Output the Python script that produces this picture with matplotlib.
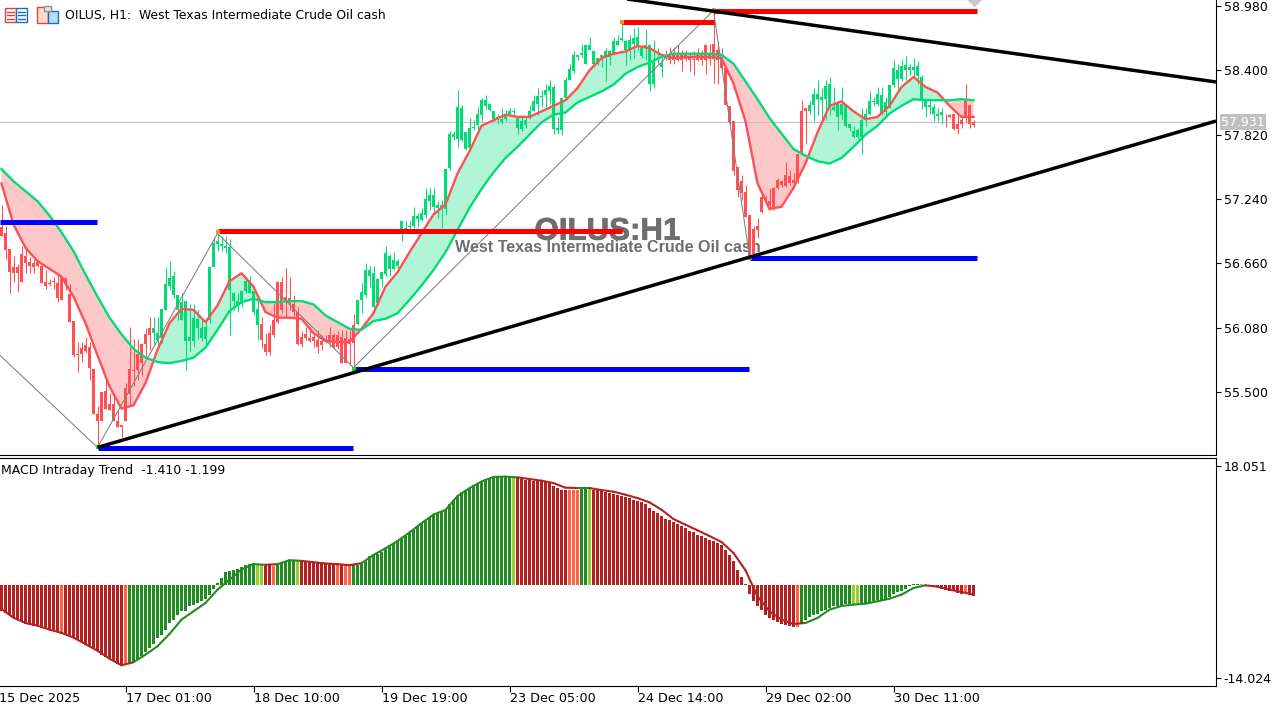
#!/usr/bin/env python3
from __future__ import annotations

import matplotlib

matplotlib.use("Agg")
import matplotlib.patheffects as pe
import matplotlib.pyplot as plt
import numpy as np
from matplotlib.patches import Rectangle

# candles, one value per H1 bar
body_top = [
    56.99, 56.93, 56.79, 56.63, 56.63, 56.74, 56.73, 56.67, 56.66, 56.67,
    56.64, 56.49, 56.48, 56.50, 56.48, 56.54, 56.53, 56.38, 56.14, 55.84,
    55.90, 55.92, 55.91, 55.71, 55.30, 55.50, 55.51, 55.39, 55.39, 55.24,
    55.20, 55.54, 55.71, 55.70, 55.84, 55.93, 56.02, 56.08, 56.08, 56.03,
    56.25, 56.47, 56.53, 56.55, 56.37, 56.31, 56.32, 56.00, 56.17, 56.16,
    56.08, 56.09, 56.63, 56.84, 56.86, 56.83, 56.82, 56.81, 56.39, 56.32,
    56.41, 56.50, 56.51, 56.41, 56.25, 56.11, 55.93, 56.03, 56.15, 56.49,
    56.49, 56.36, 56.35, 56.29, 56.22, 56.00, 56.02, 55.99, 56.00, 55.97,
    55.96, 55.97, 56.01, 56.01, 56.01, 56.00, 55.99, 55.98, 56.10, 56.33,
    56.40, 56.60, 56.60, 56.57, 56.52, 56.58, 56.75, 56.73, 56.69, 56.68,
    57.04, 56.98, 57.00, 57.09, 57.09, 57.11, 57.24, 57.28, 57.28, 57.19,
    57.19, 57.51, 57.83, 57.83, 58.07, 58.06, 57.84, 57.88, 57.89, 58.01,
    58.13, 58.13, 58.10, 58.03, 57.98, 57.96, 58.00, 58.03, 58.03, 57.97,
    57.94, 57.95, 58.03, 58.12, 58.17, 58.17, 58.22, 58.26, 58.25, 57.88,
    58.15, 58.31, 58.41, 58.54, 58.54, 58.56, 58.63, 58.63, 58.57, 58.51,
    58.54, 58.57, 58.57, 58.66, 58.66, 58.69, 58.66, 58.67, 58.69, 58.70,
    58.60, 58.63, 58.63, 58.49, 58.50, 58.47, 58.53, 58.55, 58.55, 58.54,
    58.54, 58.54, 58.53, 58.50, 58.54, 58.55, 58.63, 58.55, 58.64, 58.58,
    58.51, 58.42, 58.08, 57.94, 57.53, 57.40, 57.30, 57.10, 56.97, 57.00,
    57.26, 57.26, 57.22, 57.34, 57.41, 57.40, 57.46, 57.45, 57.41, 57.65,
    58.03, 58.06, 58.09, 58.19, 58.19, 58.16, 58.26, 58.28, 58.07, 58.10,
    58.10, 58.09, 57.92, 57.85, 57.86, 57.95, 58.01, 58.12, 58.12, 58.19,
    58.18, 58.11, 58.27, 58.42, 58.40, 58.44, 58.45, 58.43, 58.43, 58.44,
    58.34, 58.13, 58.09, 58.07, 58.01, 58.02, 57.98, 58.00, 58.01, 57.92,
    57.95, 58.12, 58.09, 57.93,
]
body_bot = [
    56.91, 56.78, 56.58, 56.57, 56.57, 56.49, 56.66, 56.64, 56.63, 56.64,
    56.48, 56.46, 56.47, 56.49, 56.35, 56.33, 56.47, 56.13, 55.83, 55.83,
    55.84, 55.87, 55.72, 55.30, 55.24, 55.24, 55.35, 55.34, 55.24, 55.18,
    55.18, 55.24, 55.48, 55.69, 55.70, 55.76, 55.93, 56.01, 56.03, 55.97,
    55.99, 56.24, 56.46, 56.37, 56.24, 56.15, 55.96, 55.96, 55.96, 56.08,
    55.99, 55.98, 56.15, 56.63, 56.83, 56.82, 56.80, 56.42, 56.32, 56.29,
    56.29, 56.41, 56.39, 56.22, 56.10, 55.97, 55.86, 55.86, 56.01, 56.13,
    56.24, 56.33, 56.30, 56.22, 55.93, 55.93, 55.99, 55.96, 55.96, 55.91,
    55.92, 55.96, 55.95, 55.91, 55.91, 55.76, 55.76, 55.93, 55.94, 56.11,
    56.33, 56.37, 56.55, 56.27, 56.30, 56.52, 56.56, 56.61, 56.61, 56.64,
    56.97, 56.97, 56.99, 57.00, 57.06, 57.05, 57.10, 57.22, 57.17, 57.16,
    57.15, 57.15, 57.52, 57.80, 57.78, 57.77, 57.69, 57.70, 57.88, 57.91,
    58.00, 58.08, 58.04, 57.96, 57.96, 57.93, 57.96, 58.01, 58.02, 57.88,
    57.87, 57.91, 57.97, 58.03, 58.10, 58.16, 58.18, 58.21, 57.87, 57.86,
    57.86, 58.15, 58.31, 58.39, 58.52, 58.54, 58.46, 58.58, 58.46, 58.46,
    58.52, 58.53, 58.52, 58.55, 58.63, 58.67, 58.58, 58.58, 58.64, 58.63,
    58.53, 58.61, 58.28, 58.28, 58.49, 58.43, 58.51, 58.49, 58.49, 58.49,
    58.49, 58.50, 58.49, 58.49, 58.49, 58.49, 58.49, 58.50, 58.50, 58.49,
    58.42, 58.09, 57.93, 57.49, 57.32, 57.29, 57.08, 56.72, 56.74, 56.96,
    57.12, 57.22, 57.19, 57.17, 57.34, 57.37, 57.36, 57.38, 57.38, 57.39,
    57.65, 58.03, 58.03, 58.09, 58.14, 58.13, 58.14, 58.07, 58.04, 57.98,
    58.00, 57.90, 57.88, 57.80, 57.80, 57.80, 57.95, 58.01, 58.11, 58.10,
    58.01, 58.02, 58.06, 58.27, 58.32, 58.32, 58.40, 58.40, 58.40, 58.35,
    58.13, 58.07, 58.07, 58.01, 57.99, 58.00, 57.98, 57.98, 57.87, 57.87,
    57.92, 57.97, 57.92, 57.91,
]
wick_high = [
    57.19, 57.00, 56.79, 56.73, 56.65, 56.82, 56.81, 56.72, 56.70, 56.69,
    56.66, 56.60, 56.52, 56.54, 56.56, 56.55, 56.54, 56.47, 56.14, 55.95,
    55.95, 56.00, 55.95, 55.71, 55.37, 55.50, 55.61, 55.49, 55.49, 55.34,
    55.20, 55.58, 56.09, 55.98, 55.98, 55.93, 56.08, 56.18, 56.18, 56.18,
    56.25, 56.62, 56.68, 56.59, 56.37, 56.39, 56.32, 56.29, 56.29, 56.24,
    56.15, 56.17, 56.63, 56.90, 56.93, 56.91, 56.91, 56.88, 56.39, 56.39,
    56.41, 56.53, 56.55, 56.41, 56.35, 56.18, 56.03, 56.10, 56.30, 56.50,
    56.54, 56.62, 56.54, 56.37, 56.27, 56.05, 56.09, 56.09, 56.04, 56.06,
    56.01, 56.01, 56.09, 56.03, 56.05, 56.06, 56.06, 56.06, 56.20, 56.33,
    56.48, 56.66, 56.64, 56.64, 56.52, 56.58, 56.82, 56.74, 56.76, 56.70,
    57.04, 57.04, 57.04, 57.17, 57.11, 57.16, 57.34, 57.34, 57.34, 57.22,
    57.23, 57.51, 57.85, 57.85, 58.22, 58.09, 57.84, 57.97, 57.95, 58.07,
    58.15, 58.18, 58.10, 58.03, 58.01, 58.06, 58.04, 58.06, 58.06, 57.98,
    57.98, 57.97, 58.09, 58.18, 58.24, 58.22, 58.28, 58.31, 58.27, 57.98,
    58.15, 58.34, 58.46, 58.57, 58.54, 58.64, 58.63, 58.70, 58.57, 58.52,
    58.54, 58.60, 58.58, 58.70, 58.72, 58.82, 58.67, 58.72, 58.78, 58.79,
    58.63, 58.77, 58.63, 58.67, 58.60, 58.55, 58.58, 58.61, 58.61, 58.63,
    58.58, 58.58, 58.55, 58.57, 58.60, 58.58, 58.64, 58.64, 58.94, 58.66,
    58.60, 58.42, 58.08, 57.94, 57.53, 57.46, 57.37, 57.10, 57.00, 57.07,
    57.31, 57.28, 57.34, 57.35, 57.43, 57.41, 57.57, 57.50, 57.47, 57.65,
    58.13, 58.06, 58.12, 58.24, 58.31, 58.24, 58.31, 58.34, 58.25, 58.10,
    58.25, 58.09, 57.92, 57.90, 57.88, 58.06, 58.06, 58.21, 58.16, 58.25,
    58.25, 58.16, 58.27, 58.49, 58.46, 58.49, 58.53, 58.46, 58.51, 58.48,
    58.36, 58.15, 58.15, 58.10, 58.06, 58.06, 58.01, 58.01, 58.01, 58.00,
    58.00, 58.28, 58.09, 57.95,
]
wick_low = [
    56.91, 56.70, 56.39, 56.49, 56.40, 56.49, 56.57, 56.57, 56.57, 56.63,
    56.48, 56.43, 56.46, 56.43, 56.31, 56.33, 56.42, 56.13, 55.82, 55.68,
    55.77, 55.85, 55.61, 55.30, 55.01, 55.24, 55.35, 55.34, 55.24, 55.18,
    55.09, 55.24, 55.37, 55.55, 55.61, 55.64, 55.82, 55.88, 55.93, 55.91,
    55.94, 56.24, 56.42, 56.35, 56.15, 56.15, 55.70, 55.87, 55.91, 55.98,
    55.96, 55.91, 56.12, 56.63, 56.77, 56.77, 56.75, 56.01, 56.24, 56.22,
    56.27, 56.39, 56.39, 56.19, 55.97, 55.90, 55.83, 55.83, 56.00, 56.12,
    56.21, 56.17, 56.24, 56.18, 55.92, 55.91, 55.97, 55.95, 55.91, 55.85,
    55.88, 55.94, 55.91, 55.89, 55.89, 55.76, 55.76, 55.74, 55.73, 56.10,
    56.21, 56.36, 56.45, 56.24, 56.28, 56.45, 56.55, 56.55, 56.60, 56.58,
    56.86, 56.96, 56.97, 56.98, 56.99, 57.04, 57.07, 57.14, 57.11, 57.07,
    56.98, 57.10, 57.50, 57.77, 57.71, 57.76, 57.68, 57.69, 57.86, 57.85,
    57.94, 58.05, 58.03, 57.94, 57.92, 57.92, 57.94, 58.00, 58.00, 57.83,
    57.85, 57.88, 57.96, 58.03, 58.00, 58.07, 58.07, 58.10, 57.83, 57.83,
    57.82, 58.13, 58.31, 58.38, 58.49, 58.52, 58.46, 58.58, 58.43, 58.45,
    58.43, 58.30, 58.45, 58.54, 58.63, 58.66, 58.45, 58.49, 58.51, 58.58,
    58.51, 58.49, 58.21, 58.24, 58.46, 58.34, 58.49, 58.46, 58.46, 58.48,
    58.39, 58.48, 58.39, 58.36, 58.48, 58.45, 58.37, 58.45, 58.29, 58.28,
    58.40, 58.09, 57.92, 57.46, 57.26, 57.23, 57.08, 56.70, 56.74, 56.89,
    57.11, 57.20, 57.14, 57.14, 57.33, 57.35, 57.35, 57.37, 57.34, 57.38,
    57.64, 57.74, 58.01, 57.94, 58.00, 57.94, 57.95, 58.00, 58.03, 57.86,
    57.95, 57.89, 57.85, 57.79, 57.78, 57.65, 57.90, 58.00, 58.08, 58.09,
    58.00, 58.00, 58.06, 58.25, 58.21, 58.30, 58.31, 58.36, 58.33, 58.28,
    58.05, 57.98, 58.01, 57.94, 57.94, 57.92, 57.89, 57.97, 57.86, 57.83,
    57.88, 57.93, 57.88, 57.89,
]

# first bar of each candle colour run, alternating red/green
trend_starts = [0, 38, 65, 89, 166, 202, 236]

# moving averages, read every third bar
ma_bars = list(range(0, 244, 3))
ma_fast = [
    57.38, 57.01, 56.80, 56.68, 56.61, 56.54, 56.36, 56.12, 55.83, 55.55,
    55.35, 55.38, 55.58, 55.88, 56.12, 56.25, 56.24, 56.13, 56.28, 56.50,
    56.57, 56.45, 56.22, 56.17, 56.17, 56.16, 56.03, 55.96, 55.95, 55.95,
    56.07, 56.21, 56.45, 56.58, 56.76, 56.93, 57.10, 57.19, 57.47, 57.67,
    57.90, 57.95, 58.00, 57.98, 57.98, 58.03, 58.08, 58.13, 58.24, 58.40,
    58.51, 58.55, 58.57, 58.62, 58.60, 58.54, 58.51, 58.52, 58.52, 58.52,
    58.51, 58.28, 57.94, 57.38, 57.15, 57.17, 57.34, 57.56, 57.84, 58.08,
    58.12, 58.03, 57.96, 57.98, 58.08, 58.25, 58.34, 58.25, 58.20, 58.08,
    57.98, 57.98,
]
ma_slow = [
    57.51, 57.40, 57.31, 57.22, 57.09, 56.94, 56.77, 56.56, 56.36, 56.17,
    56.02, 55.89, 55.81, 55.77, 55.76, 55.78, 55.81, 55.90, 56.06, 56.23,
    56.31, 56.34, 56.31, 56.31, 56.32, 56.32, 56.29, 56.19, 56.13, 56.07,
    56.06, 56.14, 56.16, 56.21, 56.33, 56.46, 56.60, 56.76, 56.96, 57.16,
    57.33, 57.48, 57.61, 57.71, 57.82, 57.93, 58.00, 58.02, 58.11, 58.16,
    58.21, 58.27, 58.37, 58.43, 58.47, 58.52, 58.55, 58.55, 58.55, 58.55,
    58.54, 58.46, 58.30, 58.14, 57.97, 57.83, 57.69, 57.63, 57.58, 57.56,
    57.61, 57.71, 57.82, 57.90, 58.01, 58.08, 58.14, 58.13, 58.13, 58.13,
    58.14, 58.13,
]

# zigzag swings and level lines (bar, price)
zigzag_bars = [-0.375, 24, 54, 88, 178, 187]
zigzag_prices = [55.83, 55.00, 56.93, 55.72, 58.94, 56.72]
support_levels = [(-0.375, 23.75, 57.03), (24, 87.75, 54.995), (88, 186.75, 55.71), (187, 243.75, 56.71)]
resistance_levels = [(54, 155, 56.95), (155, 178, 58.84), (178, 243.75, 58.935)]
swing_low_marks = [(24, 55.00), (88, 55.71), (187, 56.71)]
swing_high_marks = [(54, 56.94), (155, 58.84), (178, 58.94)]

# trend lines, two ends each
upper_line_bars = [155, 303.625]
upper_line_prices = [59.05, 58.295]
lower_line_bars = [24, 303.625]
lower_line_prices = [55.00, 57.943]

# grey arrow on the top edge
arrow_bars = [241.4, 245.2, 243.3]
arrow_prices = [59.034, 59.034, 58.97]

last_price = 57.931
price_ticks = [58.98, 58.40, 57.82, 57.24, 56.66, 56.08, 55.50]

# MACD histogram
macd_hist = [
    -3.93, -4.18, -4.44, -4.94, -5.09, -5.44, -5.80, -5.95, -6.10, -6.20,
    -6.45, -6.65, -6.80, -6.96, -7.11, -7.31, -7.46, -7.71, -7.96, -8.32,
    -8.62, -8.97, -9.22, -9.58, -9.98, -10.48, -10.84, -11.14, -11.49, -11.89,
    -12.25, -12.10, -11.69, -11.64, -11.09, -10.74, -10.08, -9.48, -8.82, -7.96,
    -7.46, -6.70, -5.70, -5.19, -4.44, -3.93, -3.83, -3.18, -2.92, -2.67,
    -2.42, -2.02, -1.41, -0.50, 0.35, 1.11, 2.02, 2.22, 2.37, 2.47,
    2.72, 3.02, 3.23, 3.38, 3.12, 3.02, 3.12, 3.02, 2.97, 3.23,
    3.38, 3.63, 3.78, 3.83, 3.63, 3.68, 3.63, 3.58, 3.53, 3.43,
    3.38, 3.33, 3.28, 3.23, 3.18, 3.07, 3.07, 3.02, 3.02, 3.02,
    3.38, 3.73, 4.38, 4.64, 4.79, 4.99, 5.64, 6.05, 6.25, 6.75,
    7.16, 7.41, 8.06, 8.42, 8.92, 9.42, 9.68, 10.28, 10.68, 10.94,
    11.09, 11.44, 12.30, 12.95, 13.56, 14.11, 14.46, 14.72, 15.12, 15.32,
    15.72, 16.08, 16.23, 16.38, 16.43, 16.43, 16.43, 16.43, 16.23, 16.23,
    16.13, 15.98, 15.88, 15.83, 15.72, 15.72, 15.62, 15.47, 14.97, 14.72,
    14.46, 14.46, 14.46, 14.46, 14.46, 14.62, 14.62, 14.52, 14.46, 14.36,
    14.21, 14.06, 13.96, 13.81, 13.71, 13.56, 13.36, 13.20, 12.95, 12.70,
    12.55, 12.30, 11.69, 11.29, 10.94, 10.43, 10.08, 9.83, 9.53, 9.27,
    9.02, 8.67, 8.27, 8.01, 7.66, 7.41, 7.16, 6.90, 6.75, 6.40,
    6.05, 5.39, 4.64, 3.63, 2.37, 1.31, 0.20, -1.26, -2.32, -3.18,
    -3.78, -4.44, -4.94, -5.29, -5.59, -5.85, -6.05, -6.20, -6.35, -6.35,
    -5.70, -5.19, -4.84, -4.54, -4.33, -3.93, -3.68, -3.43, -3.18, -3.07,
    -2.92, -2.82, -2.77, -2.77, -2.77, -2.67, -2.67, -2.57, -2.42, -2.27,
    -2.17, -2.07, -1.81, -1.31, -1.01, -0.81, -0.50, -0.15, 0.20, 0.20,
    0.20, -0.05, -0.05, -0.15, -0.30, -0.50, -0.66, -0.81, -0.91, -1.16,
    -1.31, -1.16, -1.41, -1.66,
]
# (first bar, colour) runs of the histogram
macd_color_runs = [
    (0, "#B22222"), (15, "#FF6347"), (16, "#B22222"), (31, "#FF6347"), (32, "#228B22"),
    (64, "#9ACD32"), (66, "#B22222"), (68, "#FF6347"), (69, "#228B22"), (74, "#9ACD32"),
    (75, "#B22222"), (84, "#FF6347"), (85, "#B22222"), (86, "#FF6347"), (88, "#228B22"),
    (128, "#9ACD32"), (129, "#B22222"), (142, "#FF6347"), (145, "#228B22"), (147, "#9ACD32"),
    (148, "#B22222"), (199, "#FF6347"), (200, "#228B22"), (213, "#9ACD32"), (215, "#228B22"),
    (230, "#9ACD32"), (231, "#B22222"), (241, "#FF6347"), (242, "#B22222"),
]

# MACD signal line, read every third bar
signal_bars = list(range(0, 244, 3))
signal_values = [
    -3.6, -4.9, -5.7, -6.1, -6.7, -7.2, -7.9, -8.9, -9.9, -11.1,
    -12.1, -11.64, -10.48, -9.22, -7.36, -5.19, -3.93, -2.67, -0.66, 0.86,
    2.37, 3.2, 3.1, 3.2, 3.8, 3.7, 3.5, 3.3, 3.2, 3.05,
    3.35, 4.6, 5.6, 6.7, 8.0, 9.4, 10.7, 11.4, 13.5, 14.7,
    15.7, 16.4, 16.45, 16.33, 16.08, 15.83, 15.47, 14.77, 14.72, 14.72,
    14.41, 14.16, 13.71, 13.20, 12.55, 11.44, 10.03, 9.17, 8.32, 7.46,
    6.55, 4.89, 2.27, -1.66, -3.93, -5.19, -5.85, -5.70, -4.94, -3.68,
    -3.12, -2.92, -2.77, -2.42, -2.02, -1.41, -0.40, 0.0, -0.2, -0.66,
    -1.0, -1.41,
]
# [first, last) bars where the signal line is green
signal_green_runs = [(31, 66), (69, 75), (88, 129), (144, 147), (199, 231)]

macd_ticks = [18.051, -14.024]
macd_tick_labels = ["18.051", "-14.024"]

time_ticks = [31, 63, 95, 127, 159, 191, 223]
time_labels = ["17 Dec 01:00", "18 Dec 10:00", "19 Dec 19:00", "23 Dec 05:00", "24 Dec 14:00", "29 Dec 02:00", "30 Dec 11:00"]

W, H = 1285, 706
GREEN, RED = "#00DC78", "#FF5055"
FONT = "DejaVu Sans"


def candle_colors(n: int) -> list[str]:
    colors = []
    run = 0
    for i in range(n):
        while run + 1 < len(trend_starts) and i >= trend_starts[run + 1]:
            run += 1
        colors.append(GREEN if run % 2 else RED)
    return colors


def run_colors(n: int, runs: list[tuple[int, str]]) -> list[str]:
    colors = []
    run = 0
    for i in range(n):
        while run + 1 < len(runs) and i >= runs[run + 1][0]:
            run += 1
        colors.append(runs[run][1])
    return colors


def draw_price(ax) -> None:
    bars = np.arange(len(body_top))
    top, bot = np.array(body_top), np.array(body_bot)
    colors = candle_colors(len(bars))

    fast, slow = np.array(ma_fast), np.array(ma_slow)
    ax.fill_between(ma_bars, slow, fast, where=fast >= slow, interpolate=True, color="#B2F5D6", lw=0, zorder=1)
    ax.fill_between(ma_bars, slow, fast, where=fast <= slow, interpolate=True, color="#FFC8C8", lw=0, zorder=1)
    ax.axhline(last_price, color="#C0C0C0", lw=0.8, zorder=1.5)

    ax.text(151.5, 56.945, "OILUS:H1", family="Liberation Sans", weight="bold", fontsize=22.5, color="#6E6E6E",
            ha="center", va="center", zorder=1.6, path_effects=[pe.withStroke(linewidth=0.5, foreground="#6E6E6E")])
    ax.text(151.5, 56.80, "West Texas Intermediate Crude Oil cash", family="Liberation Sans", weight="bold", fontsize=11.6,
            color="#6E6E6E", ha="center", va="center", zorder=1.6)

    ax.vlines(bars, wick_low, wick_high, colors=colors, lw=0.75, zorder=2)
    ax.bar(bars, top - bot, bottom=bot, width=0.72, color=colors, lw=0, zorder=2.1, antialiased=False)

    ax.plot(ma_bars, ma_fast, color=RED, lw=1.7, zorder=3)
    ax.plot(ma_bars, ma_slow, color=GREEN, lw=1.7, zorder=3.1)

    ax.plot(zigzag_bars, zigzag_prices, color="#808080", lw=0.75, zorder=3.2)

    for start, end, price in support_levels:
        ax.hlines(price, start, end, color="#0000FF", lw=3.6, zorder=4)
    for start, end, price in resistance_levels:
        ax.hlines(price, start, end, color="#FF0000", lw=3.6, zorder=4)
    for bar, price in swing_low_marks:
        ax.plot(bar, price, "s", ms=3.2, color="#20E020", mew=0, zorder=4.1)
    for bar, price in swing_high_marks:
        ax.plot(bar, price, "s", ms=3.2, color="#FF9010", mew=0, zorder=4.1)

    ax.plot(upper_line_bars, upper_line_prices, color="black", lw=2.5, zorder=5, solid_capstyle="butt")
    ax.plot(lower_line_bars, lower_line_prices, color="black", lw=2.5, zorder=5, solid_capstyle="butt")
    ax.fill(arrow_bars, arrow_prices, color="#C8C8C8", lw=0, zorder=5)

    ax.set_ylim(54.932, 59.034)
    ax.set_yticks(price_ticks)
    ax.set_yticklabels([f"{p:.3f}" for p in price_ticks])
    ax.set_xticks([])
    ax.annotate(f"{last_price:.3f}", xy=(1, last_price), xycoords=("axes fraction", "data"),
                xytext=(5, 0), textcoords="offset pixels", ha="left", va="center", color="white", fontsize=9,
                family=FONT, bbox=dict(boxstyle="square,pad=0.12", fc="#C0C0C0", ec="none"),
                annotation_clip=False, zorder=10)


def draw_macd(ax) -> None:
    bars = np.arange(len(macd_hist))
    ax.bar(bars, macd_hist, width=0.72, color=run_colors(len(bars), macd_color_runs), lw=0, antialiased=False, zorder=2)

    # one segment per sample so the line takes the trend colour
    for k in range(len(signal_bars) - 1):
        bar = signal_bars[k]
        green = any(start <= bar < end for start, end in signal_green_runs)
        ax.plot(signal_bars[k:k + 2], signal_values[k:k + 2], color="#228B22" if green else "#B22222", lw=1.5,
                zorder=3, solid_capstyle="round")

    ax.set_ylim(-15.234, 19.34)
    ax.set_yticks(macd_ticks)
    ax.set_yticklabels(macd_tick_labels)
    ax.set_xticks(time_ticks)
    ax.set_xticklabels(time_labels, ha="left")
    ax.annotate("15 Dec 2025", xy=(0, 0), xycoords="axes fraction", xytext=(-1, -6), textcoords="offset pixels",
                fontsize=9.2, family=FONT, ha="left", va="top", color="black", annotation_clip=False)
    ax.text(0.001, 0.945, "MACD Intraday Trend  -1.410 -1.199", transform=ax.transAxes, fontsize=9, family=FONT,
            va="center", ha="left", color="black")


def draw_header(fig) -> None:
    ov = fig.add_axes([0, 0, 1, 1], facecolor="none", zorder=20)
    ov.set_xlim(0, W)
    ov.set_ylim(H, 0)
    ov.axis("off")
    # toolbar icons
    ov.add_patch(Rectangle((5, 7.5), 11, 14.5, fc="white", ec="#E04040", lw=1))
    ov.add_patch(Rectangle((16, 7.5), 10.5, 14.5, fc="white", ec="#2070B0", lw=1))
    for y in (11.5, 15, 18.5):
        ov.plot([7, 14], [y, y], color="#E04040", lw=1)
        ov.plot([18, 25], [y, y], color="#2070B0", lw=1)
    ov.add_patch(Rectangle((37, 7), 10.5, 15.5, fc="#FFD8D0", ec="#E04040", lw=1))
    ov.add_patch(Rectangle((48, 11), 10, 11.5, fc="#B8DCF4", ec="#2070B0", lw=1))
    ov.add_patch(Rectangle((44, 6), 7, 5, fc="#E8E8E8", ec="#909090", lw=1))
    ov.text(65, 15.5, "OILUS, H1:  West Texas Intermediate Crude Oil cash", fontsize=8.9, family=FONT, va="center",
            ha="left", color="black")


def main() -> None:
    fig = plt.figure(figsize=(W / 100, H / 100), dpi=100, facecolor="white")
    ax = fig.add_axes([0, 1 - 455 / H, 1216 / W, 455 / H])
    ax2 = fig.add_axes([0, 1 - 686 / H, 1216 / W, 228.5 / H], sharex=ax)

    draw_price(ax)
    draw_macd(ax2)
    # bar 0 sits on the middle of pixel column 1
    ax.set_xlim(-0.375, 303.625)
    ax.tick_params(axis="x", bottom=False, labelbottom=False)

    for a in (ax, ax2):
        a.yaxis.tick_right()
        a.spines["left"].set_visible(False)
        a.spines["top"].set_visible(a is ax2)
        for side in ("right", "bottom", "top"):
            a.spines[side].set_linewidth(0.8)
        a.tick_params(axis="y", length=3.6, width=0.8, pad=2, labelsize=9)
    ax2.tick_params(axis="x", length=4.2, width=0.8, pad=0, labelsize=9.2)

    draw_header(fig)
    fig.savefig("out.png", dpi=100)
    plt.close(fig)


if __name__ == "__main__":
    main()
